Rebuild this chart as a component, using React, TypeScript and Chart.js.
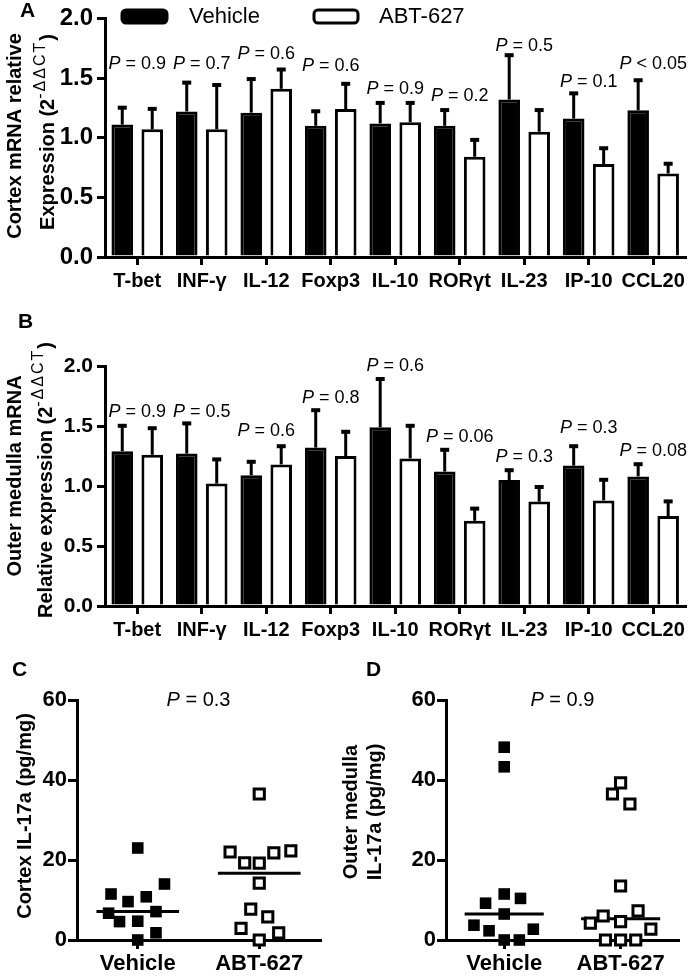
import React, { useEffect, useRef } from "react";
import { Chart, registerables } from "chart.js";
Chart.register(...registerables);

const FONT = '"Liberation Sans", Arial, Helvetica, sans-serif';

// ---------- Data ----------
const genes = ["T-bet", "INF-γ", "IL-12", "Foxp3", "IL-10", "RORγt", "IL-23", "IP-10", "CCL20"];
const seriesNames = ["Vehicle", "ABT-627"];

// Panel A: cortex mRNA (mean and SEM)
const cortexVehicle = [1.11, 1.22, 1.21, 1.10, 1.12, 1.10, 1.32, 1.16, 1.23];
const cortexVehicleSem = [0.15, 0.25, 0.29, 0.13, 0.18, 0.14, 0.38, 0.22, 0.26];
const cortexAbt = [1.07, 1.07, 1.41, 1.24, 1.13, 0.84, 1.05, 0.78, 0.70];
const cortexAbtSem = [0.18, 0.38, 0.17, 0.22, 0.17, 0.15, 0.19, 0.14, 0.09];
const cortexP = ["= 0.9", "= 0.7", "= 0.6", "= 0.6", "= 0.9", "= 0.2", "= 0.5", "= 0.1", "< 0.05"];
const cortexPLevel = [1.62, 1.62, 1.70, 1.60, 1.41, 1.35, 1.77, 1.47, 1.62];

// Panel B: outer medulla mRNA
const medullaVehicle = [1.29, 1.27, 1.09, 1.32, 1.49, 1.12, 1.05, 1.17, 1.08];
const medullaVehicleSem = [0.22, 0.26, 0.12, 0.32, 0.41, 0.19, 0.09, 0.17, 0.11];
const medullaAbt = [1.26, 1.02, 1.18, 1.25, 1.23, 0.71, 0.87, 0.88, 0.75];
const medullaAbtSem = [0.23, 0.21, 0.16, 0.21, 0.28, 0.11, 0.13, 0.18, 0.13];
const medullaP = ["= 0.9", "= 0.5", "= 0.6", "= 0.8", "= 0.6", "= 0.06", "= 0.3", "= 0.3", "= 0.08"];
const medullaPLevel = [1.62, 1.62, 1.46, 1.73, 2.0, 1.41, 1.24, 1.48, 1.29];

// Panel C: cortex IL-17a (pg/mg)
const cortexIl17Vehicle = [23.0, 11.5, 14.0, 9.6, 10.8, 6.7, 7.1, 4.6, 4.7, 1.8, 0.0];
const cortexIl17Abt = [36.5, 22.0, 21.8, 22.3, 19.3, 19.2, 14.2, 7.7, 5.8, 2.9, 1.8, 0.0];
const cortexIl17P = "= 0.3";
// Panel D: outer medulla IL-17a (pg/mg)
const medullaIl17Vehicle = [48.2, 43.3, 11.5, 9.2, 10.4, 6.5, 3.7, 2.3, 2.7, 0.0, 0.0];
const medullaIl17Abt = [39.3, 36.5, 34.0, 13.5, 4.2, 6.0, 4.6, 7.3, 2.7, 0.0, 0.0, 0.0];
const medullaIl17P = "= 0.9";

// horizontal scatter spread of the dots (fraction of a category width)
const cortexIl17VehicleSpread = [0, -0.22, 0.22, -0.08, 0.07, -0.24, 0.15, -0.15, 0, 0.15, 0];
const cortexIl17AbtSpread = [0, -0.24, 0.12, 0.26, -0.12, 0, 0, -0.07, 0.07, -0.15, 0.16, 0];
const medullaIl17VehicleSpread = [0, 0, 0, -0.16, 0.14, 0, -0.26, -0.13, 0.25, 0, 0.13];
const medullaIl17AbtSpread = [0, -0.07, 0.08, 0, -0.26, -0.15, 0, 0.15, 0.26, -0.13, 0, 0.13];

// ---------- helpers ----------
type Seg = { t: string; font: string; shift?: number; spacing?: number };

function measure(ctx: CanvasRenderingContext2D, segs: Seg[]) {
  let total = 0;
  const widths = segs.map((s) => {
    ctx.font = s.font;
    (ctx as any).letterSpacing = (s.spacing || 0) + "px";
    const w = ctx.measureText(s.t).width;
    total += w;
    return w;
  });
  (ctx as any).letterSpacing = "0px";
  return { total, widths };
}

function drawHorizontal(ctx: CanvasRenderingContext2D, xc: number, yc: number, segs: Seg[]) {
  ctx.save();
  const { total, widths } = measure(ctx, segs);
  ctx.textBaseline = "middle";
  ctx.textAlign = "left";
  ctx.fillStyle = "#000";
  let x = xc - total / 2;
  segs.forEach((s, i) => {
    ctx.font = s.font;
    ctx.fillText(s.t, x, yc + (s.shift || 0));
    x += widths[i];
  });
  ctx.restore();
}

function drawVertical(ctx: CanvasRenderingContext2D, xc: number, yc: number, segs: Seg[]) {
  ctx.save();
  const { total, widths } = measure(ctx, segs);
  ctx.translate(xc, yc);
  ctx.rotate(-Math.PI / 2);
  ctx.textBaseline = "middle";
  ctx.textAlign = "left";
  ctx.fillStyle = "#000";
  let x = -total / 2;
  segs.forEach((s, i) => {
    ctx.font = s.font;
    (ctx as any).letterSpacing = (s.spacing || 0) + "px";
    ctx.fillText(s.t, x, s.shift || 0);
    x += widths[i];
  });
  (ctx as any).letterSpacing = "0px";
  ctx.restore();
}

function median(a: number[]) {
  const s = [...a].sort((p, q) => p - q);
  const m = Math.floor(s.length / 2);
  return s.length % 2 ? s[m] : (s[m - 1] + s[m]) / 2;
}

const titleFont = `bold 20px ${FONT}`;
const supFont = `16px ${FONT}`;
const pItalic = `italic 18px ${FONT}`;
const pRegular = `18px ${FONT}`;

type TitleLine = { x: number; y: number; segs: Seg[] };

function overlayPlugin(letter: { t: string; x: number; y: number }, titles: TitleLine[], extra?: (chart: any) => void) {
  return {
    id: "overlay" + letter.t,
    afterDraw(chart: any) {
      const ctx = chart.ctx as CanvasRenderingContext2D;
      ctx.save();
      ctx.font = `bold 21px ${FONT}`;
      ctx.fillStyle = "#000";
      ctx.textBaseline = "middle";
      ctx.textAlign = "left";
      ctx.fillText(letter.t, letter.x, letter.y);
      ctx.restore();
      titles.forEach((l) => drawVertical(ctx, l.x, l.y, l.segs));
      if (extra) extra(chart);
    },
  };
}

// ---------- bar panel ----------
function barConfig(o: {
  veh: number[];
  vehSem: number[];
  abt: number[];
  abtSem: number[];
  p: string[];
  pLevel: number[];
  padTop: number;
  xH: number;
  tickSize: number;
  letter: { t: string; x: number; y: number };
  titles: TitleLine[];
  legend: boolean;
}) {
  const sems = [o.vehSem, o.abtSem];
  const errorBars = {
    id: "errorBars",
    afterDatasetsDraw(chart: any) {
      const ctx = chart.ctx as CanvasRenderingContext2D;
      const ys = chart.scales.y;
      chart.data.datasets.forEach((ds: any, di: number) => {
        const meta = chart.getDatasetMeta(di);
        meta.data.forEach((el: any, i: number) => {
          const v = ds.data[i] as number;
          const top = ys.getPixelForValue(v + sems[di][i]);
          ctx.save();
          ctx.fillStyle = "#000";
          ctx.fillRect(el.x - 1.5, top, 3, el.y - top);
          ctx.fillRect(el.x - 4.5, top - 1, 9, 4);
          ctx.restore();
        });
      });
    },
  };
  const pLabels = (chart: any) => {
    const ctx = chart.ctx as CanvasRenderingContext2D;
    const xs = chart.scales.x;
    const ys = chart.scales.y;
    o.p.forEach((txt, i) => {
      drawHorizontal(ctx, xs.getPixelForValue(i), ys.getPixelForValue(o.pLevel[i]), [
        { t: "P", font: pItalic },
        { t: " " + txt, font: pRegular },
      ]);
    });
    if (o.legend) {
      ctx.save();
      ctx.lineWidth = 3;
      ctx.strokeStyle = "#000";
      ctx.fillStyle = "#000";
      ctx.beginPath();
      (ctx as any).roundRect(122, 10, 45, 13, 4);
      ctx.fill();
      ctx.stroke();
      ctx.fillStyle = "#fff";
      ctx.beginPath();
      (ctx as any).roundRect(314, 10, 44, 13, 4);
      ctx.fill();
      ctx.stroke();
      ctx.fillStyle = "#000";
      ctx.font = `22px ${FONT}`;
      ctx.textBaseline = "middle";
      ctx.fillText(seriesNames[0], 189, 17);
      ctx.fillText(seriesNames[1], 379, 17);
      ctx.restore();
    }
  };
  return {
    type: "bar" as const,
    data: {
      labels: genes,
      datasets: [
        {
          label: seriesNames[0],
          data: o.veh,
          backgroundColor: "#000",
          borderColor: "#000",
          borderWidth: 3,
          categoryPercentage: 0.93,
          barPercentage: 0.72,
        },
        {
          label: seriesNames[1],
          data: o.abt,
          backgroundColor: "#fff",
          borderColor: "#000",
          borderWidth: 3,
          categoryPercentage: 0.93,
          barPercentage: 0.72,
        },
      ],
    },
    options: {
      responsive: false,
      animation: false as const,
      layout: { padding: { top: o.padTop, right: 3, left: 0, bottom: 0 } },
      plugins: { legend: { display: false }, tooltip: { enabled: false } },
      scales: {
        x: {
          afterFit: (s: any) => {
            s.height = o.xH;
          },
          grid: { display: true, drawOnChartArea: false, offset: false, tickLength: 8, lineWidth: 3, color: "#000" },
          border: { display: true, width: 3, color: "#000" },
          ticks: { color: "#000", font: { family: FONT, size: 20, weight: "bold" as const }, padding: 4, maxRotation: 0, autoSkip: false },
        },
        y: {
          min: 0,
          max: 2,
          afterFit: (s: any) => {
            s.width = 105;
          },
          grid: { display: true, drawOnChartArea: false, tickLength: 8, lineWidth: 3, color: "#000" },
          border: { display: true, width: 3, color: "#000" },
          ticks: {
            stepSize: 0.5,
            color: "#000",
            padding: 4,
            font: { family: FONT, size: o.tickSize, weight: "bold" as const },
            callback: (v: any) => Number(v).toFixed(1),
          },
        },
      },
    },
    plugins: [errorBars, overlayPlugin(o.letter, o.titles, pLabels)],
  };
}

// ---------- scatter panel ----------
function scatterConfig(o: {
  veh: number[];
  vehSpread: number[];
  abt: number[];
  abtSpread: number[];
  p: string;
  yW: number;
  padRight: number;
  letter: { t: string; x: number; y: number };
  titles: TitleLine[];
}) {
  const half = 0.34;
  const mv = median(o.veh);
  const ma = median(o.abt);
  const pLabel = (chart: any) => {
    const xs = chart.scales.x;
    const ys = chart.scales.y;
    drawHorizontal(chart.ctx, xs.getPixelForValue(1.5), ys.getPixelForValue(60), [
      { t: "P", font: `italic 20px ${FONT}` },
      { t: " " + o.p, font: `20px ${FONT}` },
    ]);
  };
  return {
    type: "scatter" as const,
    data: {
      datasets: [
        {
          data: o.veh.map((v, i) => ({ x: 1 + o.vehSpread[i], y: v })),
          pointStyle: "rect",
          pointRadius: 8.2,
          backgroundColor: "#000",
          borderColor: "#000",
          borderWidth: 0,
          clip: false as const,
        },
        {
          data: o.abt.map((v, i) => ({ x: 2 + o.abtSpread[i], y: v })),
          pointStyle: "rect",
          pointRadius: 7.2,
          backgroundColor: "#fff",
          borderColor: "#000",
          borderWidth: 3,
          clip: false as const,
        },
        {
          type: "line" as const,
          data: [
            { x: 1 - half, y: mv },
            { x: 1 + half, y: mv },
          ],
          borderColor: "#000",
          borderWidth: 3,
          pointRadius: 0,
          showLine: true,
        },
        {
          type: "line" as const,
          data: [
            { x: 2 - half, y: ma },
            { x: 2 + half, y: ma },
          ],
          borderColor: "#000",
          borderWidth: 3,
          pointRadius: 0,
          showLine: true,
        },
      ],
    },
    options: {
      responsive: false,
      animation: false as const,
      layout: { padding: { top: 50, right: o.padRight, left: 0, bottom: 0 } },
      plugins: { legend: { display: false }, tooltip: { enabled: false } },
      scales: {
        x: {
          type: "linear" as const,
          min: 0.5,
          max: 2.5,
          afterFit: (s: any) => {
            s.height = 36;
          },
          afterBuildTicks: (s: any) => {
            s.ticks = [{ value: 1 }, { value: 2 }];
          },
          grid: { display: true, drawOnChartArea: false, tickLength: 9, lineWidth: 3, color: "#000" },
          border: { display: true, width: 3, color: "#000" },
          ticks: {
            color: "#000",
            padding: 2,
            font: { family: FONT, size: 22, weight: "bold" as const },
            callback: (v: any) => seriesNames[Math.round(Number(v)) - 1] || "",
          },
        },
        y: {
          min: 0,
          max: 60,
          afterFit: (s: any) => {
            s.width = o.yW;
          },
          grid: { display: true, drawOnChartArea: false, tickLength: 9, lineWidth: 3, color: "#000" },
          border: { display: true, width: 3, color: "#000" },
          ticks: { stepSize: 20, color: "#000", padding: 1, font: { family: FONT, size: 22, weight: "bold" as const } },
        },
      },
    },
    plugins: [overlayPlugin(o.letter, o.titles, pLabel)],
  };
}

function Panel({ left, top, width, height, make }: { left: number; top: number; width: number; height: number; make: () => any }) {
  const ref = useRef<HTMLCanvasElement>(null);
  useEffect(() => {
    const chart = new Chart(ref.current as HTMLCanvasElement, make());
    return () => chart.destroy();
  }, []);
  return (
    <canvas
      ref={ref}
      width={width}
      height={height}
      style={{ position: "absolute", left, top, width, height }}
    />
  );
}

const ddct = (prefix: string): Seg[] => [
  { t: prefix + "(2", font: titleFont },
  { t: "-ΔΔCT", font: supFont, shift: -7, spacing: 2 },
  { t: ")", font: titleFont },
];

export default function App() {
  useEffect(() => {
    document.body.style.margin = "0";
    document.body.style.background = "#fff";
  }, []);
  return (
    <div style={{ position: "relative", width: 689, height: 976, background: "#fff", overflow: "hidden" }}>
      <Panel
        left={0}
        top={0}
        width={689}
        height={300}
        make={() =>
          barConfig({
            veh: cortexVehicle,
            vehSem: cortexVehicleSem,
            abt: cortexAbt,
            abtSem: cortexAbtSem,
            p: cortexP,
            pLevel: cortexPLevel,
            padTop: 17,
            xH: 43,
            tickSize: 24,
            letter: { t: "A", x: 20, y: 11 },
            titles: [
              { x: 15, y: 136, segs: [{ t: "Cortex mRNA relative", font: titleFont }] },
              { x: 48, y: 132, segs: ddct("Expression ") },
            ],
            legend: true,
          })
        }
      />
      <Panel
        left={0}
        top={300}
        width={689}
        height={350}
        make={() =>
          barConfig({
            veh: medullaVehicle,
            vehSem: medullaVehicleSem,
            abt: medullaAbt,
            abtSem: medullaAbtSem,
            p: medullaP,
            pLevel: medullaPLevel,
            padTop: 66,
            xH: 44,
            tickSize: 21,
            letter: { t: "B", x: 18, y: 22 },
            titles: [
              { x: 15, y: 176, segs: [{ t: "Outer medulla mRNA", font: titleFont }] },
              { x: 46, y: 180, segs: ddct("Relative expression ") },
            ],
            legend: false,
          })
        }
      />
      <Panel
        left={0}
        top={650}
        width={340}
        height={326}
        make={() =>
          scatterConfig({
            veh: cortexIl17Vehicle,
            vehSpread: cortexIl17VehicleSpread,
            abt: cortexIl17Abt,
            abtSpread: cortexIl17AbtSpread,
            p: cortexIl17P,
            yW: 77,
            padRight: 20,
            letter: { t: "C", x: 12, y: 20 },
            titles: [{ x: 25, y: 166, segs: [{ t: "Cortex IL-17a (pg/mg)", font: titleFont }] }],
          })
        }
      />
      <Panel
        left={338}
        top={650}
        width={351}
        height={326}
        make={() =>
          scatterConfig({
            veh: medullaIl17Vehicle,
            vehSpread: medullaIl17VehicleSpread,
            abt: medullaIl17Abt,
            abtSpread: medullaIl17AbtSpread,
            p: medullaIl17P,
            yW: 108,
            padRight: 2,
            letter: { t: "D", x: 28, y: 20 },
            titles: [
              { x: 13, y: 162, segs: [{ t: "Outer medulla", font: titleFont }] },
              { x: 37, y: 162, segs: [{ t: "IL-17a (pg/mg)", font: titleFont }] },
            ],
          })
        }
      />
    </div>
  );
}
